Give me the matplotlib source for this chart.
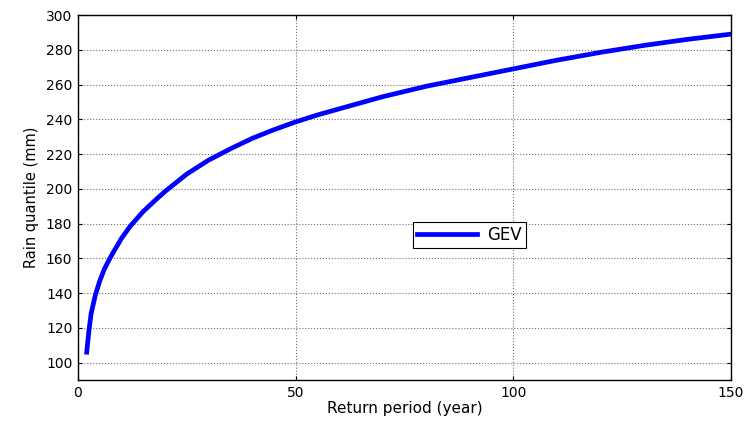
import matplotlib
matplotlib.use("Agg")
from matplotlib import pyplot as plt

# periodo de retorno (anos) e quantil de chuva (mm)
periodo = [2, 2.5, 3, 4, 5, 6, 7, 8, 10, 12, 15, 18, 20, 25, 30, 35, 40, 45,
           50, 55, 60, 70, 80, 90, 100, 110, 120, 130, 140, 150]
quantil = [106, 118, 128, 139, 147, 153.5, 158.5, 163, 171.5, 178.5, 187,
           194, 198.5, 208.5, 216.5, 223, 229, 234, 238.5, 242.5, 246, 253,
           259, 264, 269, 274, 278.5, 282.5, 286, 289]

x_ticks = [0, 50, 100, 150]
y_ticks = list(range(100, 301, 20))

plt.rcParams['font.family'] = ['DejaVu Sans']

fig = plt.figure(figsize=(7.47, 4.24), dpi=100)
ax = fig.add_axes([0.1044, 0.1038, 0.8742, 0.8608])

ax.plot(periodo, quantil, color='#0000ff', linewidth=3.4, label='GEV')

ax.set_xlim(0, 150)
ax.set_ylim(90, 300)
ax.set_xticks(x_ticks)
ax.set_yticks(y_ticks)
ax.tick_params(direction='in', length=3, width=0.8, labelsize=10,
               top=True, right=True, pad=4)
ax.grid(True, color='#707070', linestyle=':', linewidth=0.8)
for s in ax.spines.values():
    s.set_linewidth(1.0)

ax.set_xlabel('Return period (year)', fontsize=11, labelpad=1)
ax.set_ylabel('Rain quantile (mm)', fontsize=10.5, labelpad=5)

leg = ax.legend(loc='center', bbox_to_anchor=(0.599, 0.397), fontsize=12,
                fancybox=False, framealpha=1, edgecolor='black',
                handlelength=3.6, handletextpad=0.6, borderpad=0.25)
leg.get_frame().set_linewidth(0.8)

fig.savefig('out.png', dpi=100)
